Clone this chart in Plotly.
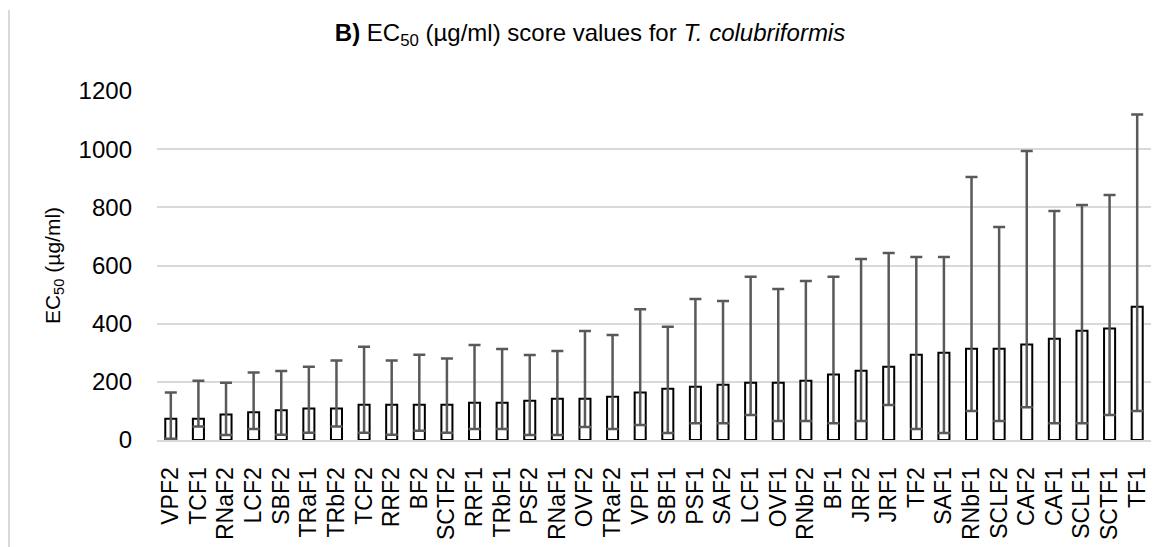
import plotly.graph_objects as go

categories = ["VPF2", "TCF1", "RNaF2", "LCF2", "SBF2", "TRaF1", "TRbF2", "TCF2", "RRF2", "BF2",
              "SCTF2", "RRF1", "TRbF1", "PSF2", "RNaF1", "OVF2", "TRaF2", "VPF1", "SBF1", "PSF1",
              "SAF2", "LCF1", "OVF1", "RNbF2", "BF1", "JRF2", "JRF1", "TF2", "SAF1", "RNbF1",
              "SCLF2", "CAF2", "CAF1", "SCLF1", "SCTF1", "TF1"]
ec50 = [73, 73, 88, 95, 102, 108, 108, 121, 121, 121,
        121, 128, 128, 135, 142, 142, 149, 163, 176, 183,
        190, 197, 197, 204, 225, 238, 252, 293, 300, 314,
        314, 328, 348, 376, 383, 458]
upper_ci = [163, 204, 197, 232, 237, 252, 273, 321, 273, 293,
            280, 327, 313, 292, 306, 375, 361, 450, 389, 485,
            478, 561, 519, 547, 561, 622, 643, 629, 629, 904,
            732, 994, 787, 808, 842, 1119]
lower_ci = [4, 46, 17, 38, 18, 25, 46, 25, 18, 32,
            25, 38, 38, 17, 17, 45, 38, 52, 24, 58,
            58, 86, 65, 65, 58, 65, 120, 38, 24, 100,
            65, 113, 58, 58, 86, 100]
y_ticks = [0, 200, 400, 600, 800, 1000, 1200]

err_plus = [u - v for u, v in zip(upper_ci, ec50)]
err_minus = [v - l for v, l in zip(ec50, lower_ci)]

FONT = "Liberation Sans, Arial, sans-serif"

# page body has an 8px margin, so the figure is sized to fit inside the window
W, H = 1167, 539
L, T, R, B = 149, 83, 24, 107
PW = W - L - R
PH = H - T - B

fig = go.Figure()
fig.add_trace(go.Bar(
    x=categories, y=ec50,
    width=0.4,
    marker=dict(color="white", line=dict(color="black", width=2)),
    error_y=dict(type="data", symmetric=False, array=err_plus, arrayminus=err_minus,
                 color="#595959", thickness=2.5, width=6),
))

fig.update_layout(
    width=W, height=H,
    margin=dict(l=L, r=R, t=T, b=B, autoexpand=False),
    paper_bgcolor="white", plot_bgcolor="white",
    showlegend=False,
    font=dict(family=FONT, color="black"),
    title=dict(
        text="<b>B)</b> EC<sub>50</sub> (µg/ml) score values for <i>T. colubriformis</i>",
        x=(590 - 8) / W, xref="container", xanchor="center",
        y=1 - (33 - 8) / H, yref="container", yanchor="middle",
        font=dict(family=FONT, size=24, color="black"),
    ),
    xaxis=dict(
        type="category",
        tickmode="array", tickvals=categories, ticktext=categories,
        tickangle=-90,
        tickfont=dict(family=FONT, size=23, color="black"),
        showline=True, linecolor="#d9d9d9", linewidth=2,
        showgrid=False, ticks="",
        ticklabelstandoff=16,
    ),
    yaxis=dict(
        range=[0, 1200], tickvals=y_ticks,
        tickfont=dict(family=FONT, size=24, color="black"),
        showgrid=True, gridcolor="#d9d9d9", gridwidth=2,
        zeroline=False, showline=False, ticks="",
        ticklabelstandoff=24,
        title=dict(text="EC<sub>50</sub> (µg/ml)", font=dict(family=FONT, size=21, color="black"),
                   standoff=12),
    ),
    shapes=[dict(type="line", xref="paper", yref="paper",
                 x0=(1 - L) / PW, x1=(1 - L) / PW, y0=-B / PH, y1=1 + (T - 2) / PH,
                 line=dict(color="#d9d9d9", width=2))],
)

fig.write_html("out.html")
